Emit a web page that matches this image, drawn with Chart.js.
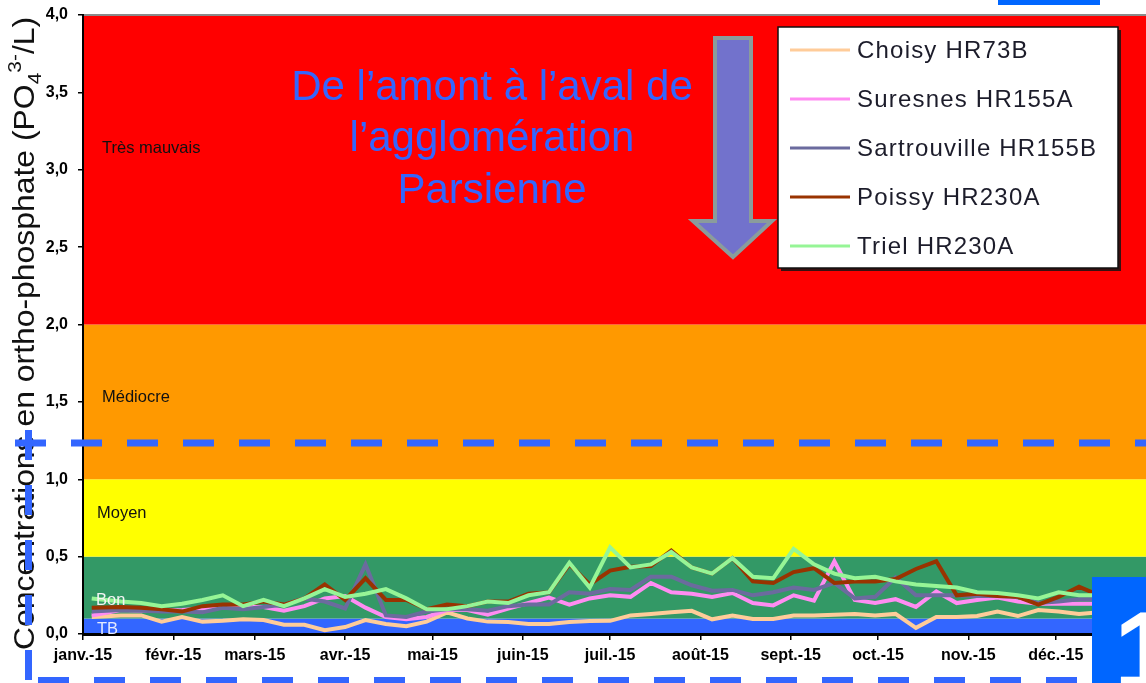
<!DOCTYPE html>
<html><head><meta charset="utf-8">
<script src="https://cdn.jsdelivr.net/npm/chart.js@4/dist/chart.umd.min.js"></script>
<style>html,body{margin:0;padding:0;background:#fff;overflow:hidden}</style>
</head><body>
<canvas id="c" width="1146" height="683"></canvas>
<script>
// ---------- data ----------
const monthDays = [0, 31, 59, 90, 120, 151, 181, 212, 243, 273, 304, 334];
const monthLabels = ['janv.-15','févr.-15','mars-15','avr.-15','mai-15','juin-15','juil.-15','août-15','sept.-15','oct.-15','nov.-15','déc.-15'];
const yTickValues = [0, 0.5, 1.0, 1.5, 2.0, 2.5, 3.0, 3.5, 4.0];
const sampleDays = [3,13,20,27,34,41,48,55,62,69,76,83,90,97,104,111,118,125,132,139,146,153,160,167,174,181,188,195,202,209,216,223,230,237,244,251,258,265,272,279,286,293,300,307,314,321,328,335,342,349,356,363];
const choisy = [0.11,0.12,0.12,0.08,0.11,0.08,0.085,0.095,0.09,0.06, 0.06,0.025,0.045,0.09,0.065,0.05,0.08,0.14,0.10,0.08, 0.077,0.065,0.065,0.077,0.084,0.085,0.12,0.13,0.14,0.15, 0.095,0.12,0.097,0.097,0.12,0.12,0.125,0.13,0.12,0.13, 0.04,0.11,0.11,0.116,0.145,0.116,0.155,0.145,0.13,0.14, 0.14,0.14];
const suresnes = [0.12,0.155,0.15,0.15,0.155,0.165,0.18,0.175,0.175,0.15, 0.18,0.23,0.245,0.17,0.11,0.095,0.11,0.155,0.155,0.125, 0.165,0.20,0.235,0.19,0.23,0.25,0.24,0.33,0.27,0.26, 0.24,0.265,0.20,0.185,0.25,0.215,0.47,0.22,0.20,0.225, 0.175,0.275,0.20,0.22,0.235,0.21,0.195,0.195,0.195,0.195, 0.195,0.195];
const sartrouville = [0.145,0.155,0.15,0.145,0.145,0.14,0.17,0.16,0.175,0.19, 0.23,0.21,0.165,0.45,0.12,0.11,0.145,0.16,0.16,0.15, 0.18,0.19,0.19,0.27,0.26,0.29,0.285,0.37,0.37,0.315, 0.28,0.285,0.25,0.27,0.30,0.285,0.33,0.23,0.24,0.365, 0.25,0.25,0.25,0.245,0.245,0.24,0.20,0.21,0.225,0.225, 0.225,0.225];
const poissy = [0.17,0.175,0.17,0.16,0.145,0.18,0.19,0.19,0.21,0.19, 0.23,0.32,0.22,0.36,0.22,0.22,0.16,0.19,0.18,0.21, 0.21,0.26,0.27,0.45,0.32,0.41,0.435,0.44,0.54,0.43, 0.39,0.49,0.34,0.33,0.40,0.425,0.33,0.34,0.34,0.355, 0.42,0.47,0.25,0.26,0.245,0.24,0.19,0.24,0.305,0.25, 0.25,0.25];
const triel = [0.23,0.21,0.20,0.18,0.195,0.22,0.25,0.18,0.22,0.18, 0.23,0.29,0.24,0.26,0.29,0.23,0.16,0.16,0.18,0.21, 0.20,0.25,0.27,0.46,0.30,0.56,0.43,0.45,0.53,0.43, 0.39,0.49,0.37,0.36,0.55,0.45,0.39,0.36,0.37,0.34, 0.32,0.31,0.30,0.27,0.265,0.25,0.23,0.27,0.25,0.25, 0.25,0.25];
const seriesNames = ['Choisy HR73B','Suresnes HR155A','Sartrouville HR155B','Poissy HR230A','Triel HR230A'];
const bandLimits = [0, 0.1, 0.5, 1.0, 2.0, 4.0];
const bandNames = ['TB','Bon','Moyen','Médiocre','Très mauvais'];
const annotationLines = ['De l\u2019amont à l\u2019aval de', 'l\u2019agglomération', 'Parsienne'];
const yTitleParts = [['Concentrations en ortho-phosphate (PO','n'], ['4','sub'], ['3-','sup'], ['/L)','n']];

// ---------- styles ----------
const seriesColors = ['#FFCC99','#FF8CF2','#6B6B9E','#993300','#96F596'];
const bandColors = ['#3366FF','#339966','#FFFF00','#FF9900','#FF0000'];
const bandLabelStyle = [
  {dx: 14, v: 0.03, color: '#E4EAFF'},
  {dx: 13, v: 0.215, color: '#F4F4F4'},
  {dx: 14, v: 0.78, color: '#111'},
  {dx: 19, v: 1.53, color: '#111'},
  {dx: 19, v: 3.14, color: '#111'}
];
const seriesValues = [choisy, suresnes, sartrouville, poissy, triel];

const datasets = seriesNames.map((name, i) => ({
  label: name,
  data: sampleDays.map((d, j) => ({x: d, y: seriesValues[i][j]})),
  borderColor: seriesColors[i],
  backgroundColor: seriesColors[i],
  borderWidth: 4,
  pointRadius: 0,
  tension: 0,
  order: 5 - i
}));

const decor = {
  id: 'decor',
  beforeDraw(chart) {
    const {ctx, chartArea: a, scales: {y}} = chart;
    ctx.save();
    for (let i = 0; i < bandNames.length; i++) {
      const top = y.getPixelForValue(bandLimits[i + 1]);
      const bot = y.getPixelForValue(bandLimits[i]);
      ctx.fillStyle = bandColors[i];
      ctx.fillRect(a.left, top, a.right - a.left, bot - top);
    }
    ctx.strokeStyle = '#8a8a8a';
    ctx.lineWidth = 2;
    ctx.beginPath(); ctx.moveTo(a.left, a.top); ctx.lineTo(a.right, a.top); ctx.stroke();
    ctx.restore();
  },
  afterDatasetsDraw(chart) {
    const {ctx, chartArea: a, scales: {y}} = chart;
    ctx.save();
    // band labels
    ctx.font = '16.5px "Liberation Sans", Arial, sans-serif';
    ctx.textBaseline = 'middle';
    ctx.textAlign = 'left';
    bandNames.forEach((n, i) => {
      const s = bandLabelStyle[i];
      ctx.fillStyle = s.color;
      ctx.fillText(n, a.left + s.dx, y.getPixelForValue(s.v));
    });
    // annotation text
    ctx.font = '42px "Liberation Sans", Arial, sans-serif';
    ctx.fillStyle = '#3366FF';
    ctx.textAlign = 'center';
    ctx.textBaseline = 'alphabetic';
    const bl = [100, 151, 203];
    annotationLines.forEach((t, i) => ctx.fillText(t, 492, bl[i]));
    // arrow
    ctx.beginPath();
    ctx.moveTo(715, 38); ctx.lineTo(751, 38); ctx.lineTo(751, 221);
    ctx.lineTo(772, 221); ctx.lineTo(733, 257); ctx.lineTo(693, 221);
    ctx.lineTo(715, 221); ctx.closePath();
    ctx.fillStyle = '#7272CC';
    ctx.fill();
    ctx.strokeStyle = '#8A9C9C';
    ctx.lineWidth = 4;
    ctx.lineJoin = 'miter';
    ctx.stroke();
    // legend box
    const lx = 778, ly = 27, lw = 340, lh = 241;
    ctx.fillStyle = 'rgba(20,20,20,0.85)';
    ctx.fillRect(lx + 3, ly + 3, lw, lh);
    ctx.fillStyle = '#fff';
    ctx.fillRect(lx, ly, lw, lh);
    ctx.strokeStyle = '#111';
    ctx.lineWidth = 1.5;
    ctx.strokeRect(lx, ly, lw, lh);
    ctx.font = '24px "Liberation Sans", Arial, sans-serif';
    ctx.textAlign = 'left';
    ctx.textBaseline = 'middle';
    if ('letterSpacing' in ctx) ctx.letterSpacing = '1.2px';
    chart.data.datasets.forEach((ds, i) => {
      const ry = 50 + i * 49;
      ctx.strokeStyle = ds.borderColor;
      ctx.lineWidth = 3;
      ctx.beginPath(); ctx.moveTo(790, ry); ctx.lineTo(850, ry); ctx.stroke();
      ctx.fillStyle = '#1c1c2a';
      ctx.fillText(ds.label, 857, ry + 1);
    });
    if ('letterSpacing' in ctx) ctx.letterSpacing = '0px';
    ctx.restore();
  },
  afterDraw(chart) {
    const {ctx} = chart;
    ctx.save();
    // y axis title with sub/superscript
    ctx.translate(34, 650);
    ctx.rotate(-Math.PI / 2);
    ctx.scale(1.1, 1);
    ctx.fillStyle = '#111';
    ctx.textBaseline = 'alphabetic';
    ctx.textAlign = 'left';
    let x = 0;
    yTitleParts.forEach(([t, kind]) => {
      const size = kind === 'n' ? 29 : 19;
      const dy = kind === 'sub' ? 7 : (kind === 'sup' ? -13 : 0);
      ctx.font = size + 'px "Liberation Sans", Arial, sans-serif';
      ctx.fillText(t, x, dy);
      x += ctx.measureText(t).width;
    });
    ctx.restore();

    ctx.save();
    ctx.strokeStyle = '#3366FF';
    ctx.lineCap = 'butt';
    // horizontal dashed line
    ctx.lineWidth = 7;
    ctx.setLineDash([31, 25]);
    ctx.beginPath(); ctx.moveTo(15, 443); ctx.lineTo(1146, 443); ctx.stroke();
    // vertical dashed line
    ctx.setLineDash([30, 25]);
    ctx.beginPath(); ctx.moveTo(28.5, 430); ctx.lineTo(28.5, 683); ctx.stroke();
    // bottom dashed line
    ctx.lineWidth = 6;
    ctx.setLineDash([31, 25]);
    ctx.beginPath(); ctx.moveTo(38, 680); ctx.lineTo(1092, 680); ctx.stroke();
    ctx.setLineDash([]);
    // blue boxes
    ctx.fillStyle = '#0066FF';
    ctx.fillRect(998, 0, 102, 5);
    ctx.fillRect(1092, 577, 54, 106);
    ctx.fillStyle = '#fff';
    ctx.font = 'bold 110px "Liberation Sans", Arial, sans-serif';
    ctx.textAlign = 'left';
    ctx.textBaseline = 'alphabetic';
    ctx.fillText('1', 1114, 688);
    ctx.restore();
  }
};

const tickFont = {family: '"Liberation Sans", Arial, sans-serif', size: 16, weight: 'bold'};

new Chart(document.getElementById('c'), {
  type: 'line',
  data: {datasets},
  options: {
    responsive: false,
    animation: false,
    devicePixelRatio: 1,
    layout: {padding: {top: 15, left: 0, right: 0, bottom: 0}},
    plugins: {legend: {display: false}, tooltip: {enabled: false}},
    scales: {
      x: {
        type: 'linear', min: 0, max: 365,
        afterBuildTicks: (s) => { s.ticks = monthDays.map(v => ({value: v})); },
        ticks: {callback: (v, i) => monthLabels[i], autoSkip: false, maxRotation: 0, minRotation: 0, font: tickFont, color: '#000', padding: 6},
        grid: {drawOnChartArea: false, drawTicks: true, tickLength: 6, color: '#000', lineWidth: 1.5},
        border: {color: '#000', width: 3},
        afterFit: (s) => { s.height = 49; s.paddingLeft = 0; s.paddingRight = 0; }
      },
      y: {
        min: 0, max: 4,
        afterBuildTicks: (s) => { s.ticks = yTickValues.map(v => ({value: v})); },
        ticks: {callback: (v) => v.toFixed(1).replace('.', ','), font: tickFont, color: '#000', padding: 10},
        grid: {drawOnChartArea: false, drawTicks: true, tickLength: 5, color: '#000', lineWidth: 1.5},
        border: {color: '#000', width: 2},
        afterFit: (s) => { s.width = 83; s.paddingTop = 0; s.paddingBottom = 0; }
      }
    }
  },
  plugins: [decor]
});
</script>
</body></html>
